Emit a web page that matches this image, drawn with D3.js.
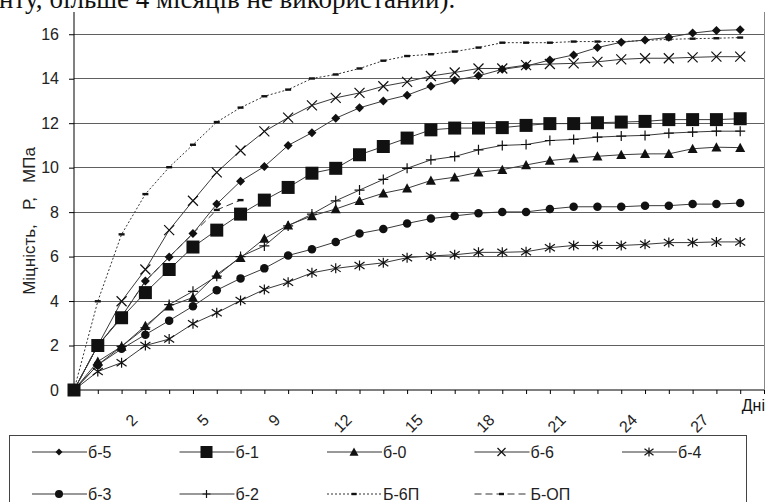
<!DOCTYPE html>
<html><head><meta charset="utf-8">
<script src="https://cdn.jsdelivr.net/npm/d3@7/dist/d3.min.js"></script>
<style>
body{margin:0;background:#fff;}
svg{display:block;font-family:"Liberation Sans",Arial,sans-serif;}
text.pre{white-space:pre;}
</style></head>
<body><svg id="c" width="766" height="502"></svg>
<script>
// ---- data ----
const days = [0,1,2,3,4,5,7,8,9,10,11,12,13,14,15,16,17,18,19,20,21,22,23,24,25,26,27,28,29,30];
const shownDayLabels = [2,5,9,12,15,18,21,24,27];
const yTicks = [0,2,4,6,8,10,12,14,16];
const b5  = [0,2.0,3.3,4.9,5.98,7.04,8.36,9.39,10.05,11.0,11.57,12.22,12.69,13.0,13.26,13.66,13.93,14.13,14.42,14.57,14.84,15.07,15.4,15.64,15.74,15.86,16.05,16.17,16.2];
const b1  = [0,2.0,3.25,4.38,5.42,6.43,7.19,7.91,8.54,9.11,9.75,9.97,10.58,10.95,11.33,11.7,11.78,11.78,11.8,11.9,11.98,11.98,12.02,12.05,12.08,12.16,12.16,12.16,12.2];
const b0  = [0,1.28,1.96,2.89,3.77,4.16,5.2,5.95,6.81,7.41,7.83,8.14,8.51,8.85,9.07,9.42,9.57,9.79,9.91,10.12,10.32,10.42,10.51,10.58,10.62,10.62,10.85,10.92,10.9];
const b6  = [0,2.0,3.99,5.42,7.19,8.51,9.79,10.77,11.63,12.25,12.8,13.14,13.36,13.66,13.86,14.12,14.28,14.46,14.46,14.61,14.66,14.69,14.76,14.87,14.92,14.92,14.96,14.99,14.99];
const b4  = [0,0.83,1.23,2.0,2.29,2.98,3.47,4.02,4.52,4.85,5.27,5.47,5.6,5.72,5.95,6.03,6.08,6.19,6.19,6.22,6.4,6.5,6.5,6.5,6.55,6.63,6.63,6.66,6.66];
const b3  = [0,1.13,1.85,2.49,3.12,3.77,4.49,5.02,5.47,6.05,6.33,6.66,7.04,7.24,7.49,7.71,7.83,7.95,8.01,8.01,8.14,8.24,8.24,8.24,8.29,8.29,8.36,8.36,8.41];
const b2  = [0,1.13,1.96,2.8,3.84,4.44,5.12,6.0,6.48,7.38,7.91,8.51,8.99,9.47,9.97,10.35,10.5,10.8,11.0,11.04,11.22,11.27,11.37,11.42,11.45,11.55,11.6,11.64,11.64];
const B6P = [0,3.99,7.0,8.81,10.02,11.03,12.05,12.7,13.21,13.51,14.01,14.19,14.46,14.81,15.02,15.1,15.22,15.4,15.62,15.62,15.62,15.67,15.67,15.67,15.72,15.77,15.8,15.82,15.85];
const BOP = [0,2.0,3.3,4.9,5.98,7.04,8.1,8.54];

const series = [
  {name:"б-5", values:b5, marker:"diamond", dash:null},
  {name:"б-1", values:b1, marker:"square", dash:null},
  {name:"б-0", values:b0, marker:"triangle", dash:null},
  {name:"б-6", values:b6, marker:"times", dash:null},
  {name:"б-4", values:b4, marker:"asterisk", dash:null},
  {name:"б-3", values:b3, marker:"circle", dash:null},
  {name:"б-2", values:b2, marker:"plus", dash:null},
  {name:"Б-6П", values:B6P, marker:"dash", dash:"2,2"},
  {name:"Б-ОП", values:BOP, marker:"dash", dash:"7,4"}
];

// ---- drawing ----
const svg = d3.select("#c");
svg.append("rect").attr("width",766).attr("height",502).attr("fill","#fff");

svg.append("text").attr("x",-1).attr("y",8)
  .style("font-family","'Liberation Serif','Times New Roman',serif").style("font-size","27px")
  .attr("fill","#111").text("нту, більше 4 місяців не використаний).");

const x = d3.scaleLinear().domain([0, days.length-1]).range([74, 764]);
const y = d3.scaleLinear().domain([0, 17]).range([390, 12]);

// grid
svg.append("g").selectAll("line").data(yTicks.filter(d=>d>0)).join("line")
  .attr("x1",74).attr("x2",764).attr("y1",d=>y(d)).attr("y2",d=>y(d))
  .attr("stroke","#606060").attr("stroke-width",1).attr("shape-rendering","crispEdges");
svg.append("line").attr("x1",764).attr("x2",764).attr("y1",12).attr("y2",390)
  .attr("stroke","#888").attr("shape-rendering","crispEdges");

// axes
const yAxis = svg.append("g").attr("transform","translate(74,0)")
  .call(d3.axisLeft(y).tickValues(yTicks).tickSize(5).tickPadding(10).tickFormat(d3.format("d")));
yAxis.select(".domain").attr("d","M0,12V390").attr("stroke","#000");
yAxis.selectAll("text").style("font-size","16px").attr("fill","#222").style("font-family","'Liberation Sans',Arial,sans-serif");

const xAxis = svg.append("g").attr("transform","translate(0,390)")
  .call(d3.axisBottom(x).tickValues(d3.range(days.length)).tickSize(4).tickFormat(""));
xAxis.select(".domain").attr("d","M74,0H764").attr("stroke","#000");

svg.append("g").selectAll("text").data(days.map((d,i)=>({d,i})).filter(o=>shownDayLabels.includes(o.d))).join("text")
  .attr("transform",o=>`translate(${x(o.i)+17},421) rotate(-45)`)
  .attr("text-anchor","end").style("font-size","16px").attr("fill","#222").text(o=>o.d);

svg.append("text").attr("x",765).attr("y",411).attr("text-anchor","end")
  .style("font-size","16px").attr("fill","#111").text("Дні");

svg.append("text").attr("class","pre").attr("transform","translate(35,221) rotate(-90)").attr("text-anchor","middle")
  .style("font-size","17px").attr("fill","#222").text("Міцність,   Р,   МПа");

// markers
function markerPath(type, s){
  const r = s/2;
  switch(type){
    case "diamond": return `M0,${-r}L${r},0L0,${r}L${-r},0Z`;
    case "square": return `M${-r},${-r}H${r}V${r}H${-r}Z`;
    case "triangle": return `M0,${-r}L${r},${r*0.85}L${-r},${r*0.85}Z`;
    case "circle": return d3.symbol(d3.symbolCircle, Math.PI*r*r)();
    case "times": return `M${-r},${-r}L${r},${r}M${-r},${r}L${r},${-r}`;
    case "asterisk": return `M${-r},${-r*0.7}L${r},${r*0.7}M${-r},${r*0.7}L${r},${-r*0.7}M0,${-r}V${r}`;
    case "plus": return `M${-r},0H${r}M0,${-r}V${r}`;
    case "dash": return `M${-r},-1.2H${r}V1.2H${-r}Z`;
  }
}
const sizes = {diamond:9, square:13, triangle:10, circle:8.5, times:10, asterisk:10, plus:10, dash:6};
const strokeTypes = new Set(["times","asterisk","plus"]);

const line = d3.line().x((d,i)=>x(i)).y(d=>y(d));
const order = [8,7,6,5,4,3,2,1,0];
const gS = svg.append("g");
order.forEach(k=>{
  const s = series[k];
  gS.append("path").attr("d", line(s.values)).attr("fill","none")
    .attr("stroke", s.dash ? "#333" : "#3a3a3a").attr("stroke-width",1)
    .attr("stroke-dasharray", s.dash);
});
order.forEach(k=>{
  const s = series[k];
  gS.append("g").selectAll("path").data(s.values).join("path")
    .attr("transform",(d,i)=>`translate(${x(i)},${y(d)})`)
    .attr("d", markerPath(s.marker, sizes[s.marker]))
    .attr("fill", strokeTypes.has(s.marker) ? "none" : "#111")
    .attr("stroke", strokeTypes.has(s.marker) ? "#111" : "none")
    .attr("stroke-width",1.2);
});

// legend
const lg = svg.append("g");
lg.append("rect").attr("x",9.5).attr("y",435.5).attr("width",737).attr("height",80)
  .attr("fill","#fff").attr("stroke","#444");
const lsizes = {diamond:7, square:12, triangle:9, circle:8, times:8, asterisk:9, plus:8, dash:5};
series.forEach((s,k)=>{
  const col = k % 5, row = Math.floor(k/5);
  const x0 = 32 + col*147.5, yc = 452 + row*42;
  lg.append("line").attr("x1",x0).attr("x2",x0+55).attr("y1",yc).attr("y2",yc)
    .attr("stroke","#333").attr("stroke-width",1).attr("stroke-dasharray", s.dash);
  lg.append("path").attr("transform",`translate(${x0+27},${yc})`)
    .attr("d", markerPath(s.marker, lsizes[s.marker]))
    .attr("fill", strokeTypes.has(s.marker) ? "none" : "#111")
    .attr("stroke", strokeTypes.has(s.marker) ? "#111" : "none").attr("stroke-width",1.2);
  lg.append("text").attr("x",x0+56).attr("y",yc+5.5).style("font-size","16px").attr("fill","#222").text(s.name);
});
</script></body></html>
